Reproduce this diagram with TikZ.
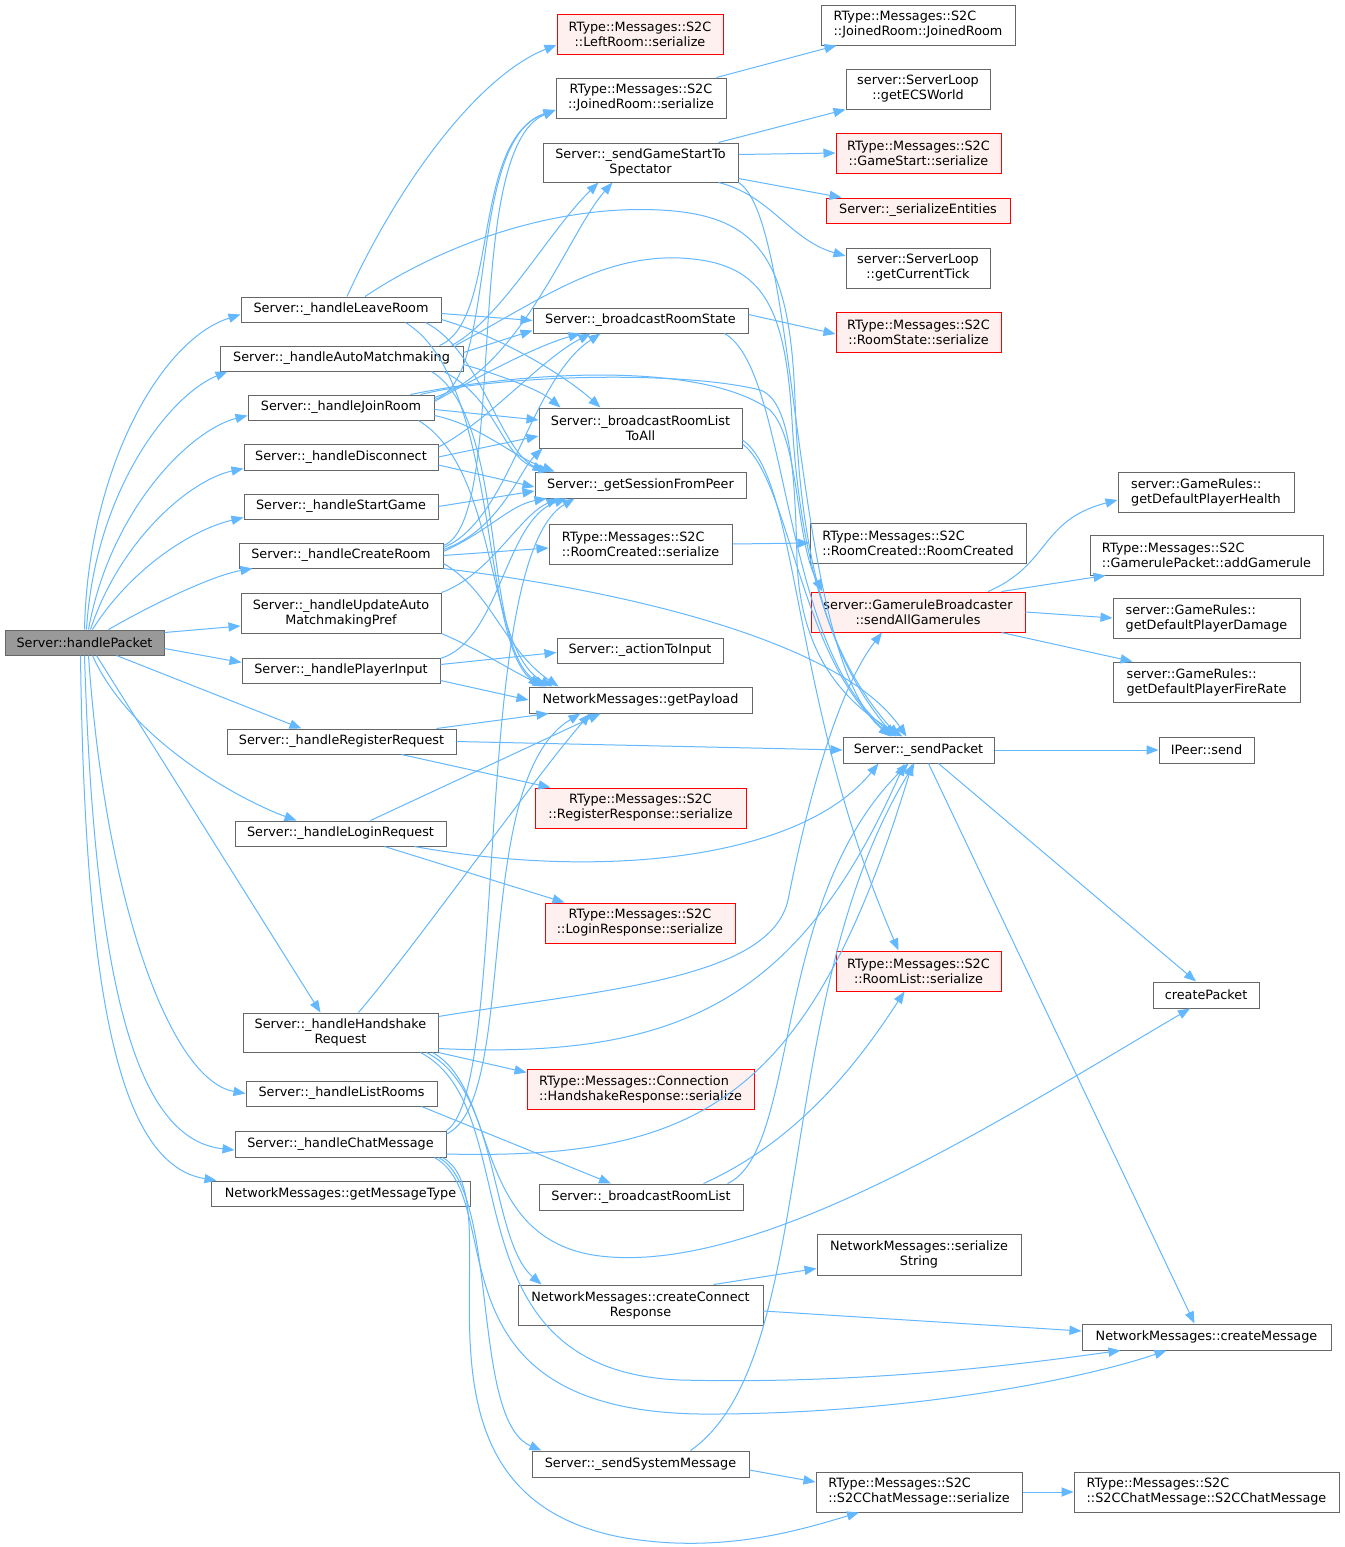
\documentclass[tikz,border=0pt]{standalone}
\usepackage{fontspec}
\setmainfont{DejaVu Sans}
\usetikzlibrary{arrows.meta}
\definecolor{edgec}{HTML}{63B8FF}
\definecolor{boxc}{HTML}{666666}
\definecolor{redc}{HTML}{FF0000}
\definecolor{redf}{HTML}{FFF0F0}
\definecolor{greyf}{HTML}{999999}
\newcommand\gnode[7]{\node[#6, minimum width={(#4-#2)*0.5pt}, minimum height={(#5-#3)*0.5pt}] (#1) at ({(#2+#4)/2},{(#3+#5)/2}) {#7};}
\tikzset{
  box/.style={draw=boxc, fill=white, line width=0.5pt, inner sep=0pt, align=center, font=\fontsize{6.4}{7.5}\selectfont},
  lbox/.style={box, align=left},
  redbox/.style={box, draw=redc, fill=redf},
  lredbox/.style={redbox, align=left},
  curbox/.style={box, fill=greyf},
  lnk/.style={draw=edgec, line width=0.5pt, -{Triangle[length=6pt,width=4.6pt]}}
}
\begin{document}
\begin{tikzpicture}[x=0.5pt,y=-0.5pt]
\fill[white] (0,0) rectangle (1344,1547);
\useasboundingbox (0,0) rectangle (1344,1547);
% column 1
\gnode{P}{5}{630}{164}{655}{curbox}{Server::handlePacket}
% column 2
\gnode{LR}{241}{297}{441}{322}{box}{Server::\_handleLeaveRoom}
\gnode{AM}{220}{346}{463}{371}{box}{Server::\_handleAutoMatchmaking}
\gnode{JR}{248}{395}{434}{420}{box}{Server::\_handleJoinRoom}
\gnode{DC}{244}{444}{438}{470}{box}{Server::\_handleDisconnect}
\gnode{SG}{244}{494}{438}{519}{box}{Server::\_handleStartGame}
\gnode{CR}{239}{543}{443}{568}{box}{Server::\_handleCreateRoom}
\gnode{UA}{241}{593}{441}{633}{box}{Server::\_handleUpdateAuto\\MatchmakingPref}
\gnode{PI}{242}{658}{440}{683}{box}{Server::\_handlePlayerInput}
\gnode{RR}{227}{729}{456}{754}{box}{Server::\_handleRegisterRequest}
\gnode{LG}{235}{821}{446}{846}{box}{Server::\_handleLoginRequest}
\gnode{HS}{243}{1013}{438}{1052}{box}{Server::\_handleHandshake\\Request}
\gnode{LI}{246}{1081}{437}{1106}{box}{Server::\_handleListRooms}
\gnode{CM}{235}{1131}{446}{1157}{box}{Server::\_handleChatMessage}
\gnode{MT}{211}{1181}{470}{1206}{box}{NetworkMessages::getMessageType}
% column 3
\gnode{LRs}{557}{14}{723}{54}{redbox}{RType::Messages::S2C\\::LeftRoom::serialize}
\gnode{JRs}{556}{78}{726}{118}{box}{RType::Messages::S2C\\::JoinedRoom::serialize}
\gnode{GSS}{543}{143}{738}{182}{box}{Server::\_sendGameStartTo\\Spectator}
\gnode{BRS}{533}{308}{748}{333}{box}{Server::\_broadcastRoomState}
\gnode{BRLA}{539}{408}{742}{448}{box}{Server::\_broadcastRoomList\\ToAll}
\gnode{GSP}{535}{472}{746}{498}{box}{Server::\_getSessionFromPeer}
\gnode{RCs}{549}{524}{732}{564}{lbox}{RType::Messages::S2C\\::RoomCreated::serialize}
\gnode{ATI}{557}{638}{723}{663}{box}{Server::\_actionToInput}
\gnode{GP}{529}{687}{752}{713}{box}{NetworkMessages::getPayload}
\gnode{RRs}{535}{788}{746}{828}{redbox}{RType::Messages::S2C\\::RegisterResponse::serialize}
\gnode{LGs}{545}{903}{735}{943}{redbox}{RType::Messages::S2C\\::LoginResponse::serialize}
\gnode{HSs}{527}{1069}{754}{1109}{lredbox}{RType::Messages::Connection\\::HandshakeResponse::serialize}
\gnode{BRL}{539}{1184}{743}{1210}{box}{Server::\_broadcastRoomList}
\gnode{CCR}{518}{1285}{763}{1325}{box}{NetworkMessages::createConnect\\Response}
\gnode{SSM}{532}{1451}{749}{1477}{box}{Server::\_sendSystemMessage}
% column 4
\gnode{JRJR}{821}{5}{1015}{45}{lbox}{RType::Messages::S2C\\::JoinedRoom::JoinedRoom}
\gnode{ECS}{846}{69}{990}{109}{box}{server::ServerLoop\\::getECSWorld}
\gnode{GSs}{836}{133}{1001}{173}{redbox}{RType::Messages::S2C\\::GameStart::serialize}
\gnode{SE}{826}{198}{1010}{223}{redbox}{Server::\_serializeEntities}
\gnode{CT}{846}{248}{990}{288}{box}{server::ServerLoop\\::getCurrentTick}
\gnode{RSs}{836}{312}{1001}{352}{redbox}{RType::Messages::S2C\\::RoomState::serialize}
\gnode{RCRC}{810}{523}{1026}{563}{lbox}{RType::Messages::S2C\\::RoomCreated::RoomCreated}
\gnode{GB}{811}{592}{1025}{632}{redbox}{server::GameruleBroadcaster\\::sendAllGamerules}
\gnode{SP}{843}{737}{994}{763}{box}{Server::\_sendPacket}
\gnode{RLs}{836}{951}{1001}{991}{redbox}{RType::Messages::S2C\\::RoomList::serialize}
\gnode{SS}{817}{1234}{1021}{1275}{box}{NetworkMessages::serialize\\String}
\gnode{S2Cs}{816}{1472}{1022}{1512}{lbox}{RType::Messages::S2C\\::S2CChatMessage::serialize}
% column 5
\gnode{HP}{1118}{472}{1294}{512}{lbox}{server::GameRules::\\getDefaultPlayerHealth}
\gnode{AG}{1090}{535}{1323}{575}{lbox}{RType::Messages::S2C\\::GamerulePacket::addGamerule}
\gnode{DM}{1113}{598}{1300}{638}{lbox}{server::GameRules::\\getDefaultPlayerDamage}
\gnode{FR}{1113}{662}{1300}{702}{lbox}{server::GameRules::\\getDefaultPlayerFireRate}
\gnode{IP}{1159}{737}{1254}{763}{box}{IPeer::send}
\gnode{CP}{1153}{982}{1259}{1008}{box}{createPacket}
\gnode{CMsg}{1082}{1324}{1331}{1350}{box}{NetworkMessages::createMessage}
\gnode{S2CC}{1074}{1472}{1339}{1512}{lbox}{RType::Messages::S2C\\::S2CChatMessage::S2CChatMessage}

% ---- edges from handlePacket
\draw[lnk] (P.north) .. controls (88,470) and (160,340) .. ([yshift=-2.5pt]LR.west);
\draw[lnk] ([xshift=1pt]P.north) .. controls (95,490) and (170,395) .. ([xshift=4pt]AM.south west);
\draw[lnk] ([xshift=2pt]P.north) .. controls (110,510) and (190,430) .. ([yshift=-4pt]JR.west);
\draw[lnk] ([xshift=3pt]P.north) .. controls (120,540) and (190,480) .. ([yshift=1pt]DC.south west);
\draw[lnk] ([xshift=4pt]P.north) .. controls (130,570) and (190,530) .. ([yshift=1pt]SG.south west);
\draw[lnk] ([xshift=12pt]P.north) .. controls (160,600) and (215,575) .. ([xshift=7pt]CR.south west);
\draw[lnk] ([yshift=5pt]P.east) -- ([yshift=-6.5pt]UA.west);
\draw[lnk] ([yshift=-3pt]P.east) -- ([yshift=4pt]PI.west);
\draw[lnk] ([xshift=16pt]P.south) -- ([xshift=-20pt]RR.north);
\draw[lnk] ([xshift=4pt]P.south) .. controls (130,740) and (240,800) .. ([xshift=-22pt]LG.north);
\draw[lnk] ([xshift=6pt]P.south) -- ([xshift=-10pt]HS.north);
\draw[lnk] ([xshift=2pt]P.south) .. controls (105,900) and (170,1080) .. (LI.west);
\draw[lnk] (P.south) .. controls (95,1000) and (140,1140) .. ([yshift=-3pt]CM.west);
\draw[lnk] ([xshift=-2pt]P.south) .. controls (85,1000) and (120,1165) .. ([xshift=3pt]MT.north west);

% ---- _handleLeaveRoom
\draw[lnk] ([xshift=3pt]LR.north) .. controls (400,180) and (480,75) .. ([yshift=-5.5pt]LRs.west);
\draw[lnk] ([xshift=12pt]LR.north) .. controls (450,240) and (560,205) .. (660,210) .. controls (760,215) and (790,260) .. (795,400) .. controls (800,560) and (830,660) .. ([xshift=-12pt]SP.north);
\draw[lnk] ([yshift=-2pt]LR.east) -- (BRS.west);
\draw[lnk] ([yshift=-5pt]LR.east) .. controls (510,340) and (570,380) .. ([xshift=-20pt]BRLA.north);
\draw[lnk] ([xshift=-8pt]LR.south east) .. controls (480,350) and (500,450) .. ([xshift=5pt]GSP.north west);
\draw[lnk] ([xshift=-18pt]LR.south east) .. controls (500,380) and (480,640) .. ([xshift=6pt]GP.north west);

% ---- _handleAutoMatchmaking
\draw[lnk] ([xshift=-12pt]AM.north east) .. controls (500,320) and (470,140) .. ([yshift=-6pt]JRs.west);
\draw[lnk] ([xshift=-6pt]AM.north east) .. controls (500,320) and (550,230) .. ([xshift=-21pt]GSS.south);
\draw[lnk] ([yshift=3pt]AM.east) -- ([yshift=-5pt]BRS.west);
\draw[lnk] ([yshift=-3pt]AM.east) .. controls (500,375) and (540,390) .. ([xshift=-40pt]BRLA.north);
\draw[lnk] ([xshift=-10pt]AM.south east) .. controls (500,400) and (500,460) .. ([xshift=8pt]GSP.north west);
\draw[lnk] ([xshift=-16pt]AM.south east) .. controls (510,420) and (480,650) .. ([xshift=9pt]GP.north west);
\draw[lnk] ([xshift=-4pt]AM.north east) .. controls (540,300) and (600,255) .. (680,258) .. controls (760,262) and (785,300) .. (792,420) .. controls (800,560) and (830,660) .. ([xshift=-10pt]SP.north);

% ---- _handleJoinRoom
\draw[lnk] ([yshift=4pt]JR.east) .. controls (500,380) and (465,140) .. ([yshift=-6pt]JRs.west);
\draw[lnk] ([yshift=5pt]JR.east) .. controls (520,370) and (570,230) .. ([xshift=-14pt]GSS.south);
\draw[lnk] ([yshift=3pt]JR.east) .. controls (490,370) and (540,345) .. ([xshift=-30pt]BRS.south);
\draw[lnk] ([yshift=-1pt]JR.east) -- ([yshift=4pt]BRLA.west);
\draw[lnk] ([yshift=-4pt]JR.east) .. controls (480,425) and (510,455) .. ([xshift=10pt]GSP.north west);
\draw[lnk] ([xshift=-8pt]JR.south east) .. controls (500,470) and (485,650) .. ([xshift=12pt]GP.north west);
\draw[lnk] ([xshift=-7pt]JR.north east) .. controls (500,375) and (680,370) .. (760,390) .. controls (790,400) and (795,470) .. (797,560) .. controls (800,650) and (840,700) .. ([xshift=-8pt]SP.north);
\draw[lnk] ([xshift=-12pt]JR.north east) .. controls (520,372) and (700,360) .. (770,410) .. controls (800,440) and (795,540) .. ([xshift=6pt]GB.north west);

% ---- _handleDisconnect
\draw[lnk] ([yshift=5pt]DC.east) .. controls (490,420) and (540,360) .. ([xshift=-25pt]BRS.south);
\draw[lnk] (DC.east) -- ([yshift=-4pt]BRLA.west);
\draw[lnk] ([yshift=-4pt]DC.east) -- ([yshift=-1pt]GSP.west);
% ---- _handleStartGame
\draw[lnk] (SG.east) -- ([yshift=-3pt]GSP.west);

% ---- _handleCreateRoom
\draw[lnk] ([yshift=5pt]CR.east) .. controls (510,520) and (460,150) .. ([yshift=-6pt]JRs.west);
\draw[lnk] ([yshift=4pt]CR.east) .. controls (510,520) and (530,380) .. ([xshift=-20pt]BRS.south);
\draw[lnk] ([yshift=3pt]CR.east) .. controls (500,530) and (520,470) .. ([xshift=2pt]BRLA.south west);
\draw[lnk] ([yshift=2pt]CR.east) .. controls (490,530) and (510,505) .. ([xshift=6pt]GSP.south west);
\draw[lnk] (CR.east) -- ([yshift=-2pt]RCs.west);
\draw[lnk] ([yshift=-4pt]CR.east) .. controls (490,590) and (505,650) .. ([xshift=15pt]GP.north west);
\draw[lnk] (CR.south east) .. controls (620,590) and (840,640) .. ([xshift=-6pt]SP.north);

% ---- _handleUpdateAutoMatchmakingPref
\draw[lnk] (UA.north east) .. controls (490,575) and (520,515) .. ([xshift=12pt]GSP.south west);
\draw[lnk] (UA.south east) .. controls (480,650) and (510,670) .. ([xshift=8pt]GP.north west);
% ---- _handlePlayerInput
\draw[lnk] ([yshift=6pt]PI.east) .. controls (500,640) and (505,520) .. ([xshift=16pt]GSP.south west);
\draw[lnk] ([yshift=3pt]PI.east) -- ([yshift=-1pt]ATI.west);
\draw[lnk] ([yshift=-5pt]PI.east) -- (GP.west);
% ---- _handleRegisterRequest
\draw[lnk] ([xshift=-10pt]RR.north east) -- ([xshift=10pt]GP.south west);
\draw[lnk] ([xshift=30pt]RR.south) -- ([xshift=8pt]RRs.north west);
\draw[lnk] (RR.east) -- (SP.west);
% ---- _handleLoginRequest
\draw[lnk] ([xshift=15pt]LG.north) -- ([xshift=-20pt]GP.south);
\draw[lnk] ([xshift=22pt]LG.south) -- ([xshift=10pt]LGs.north west);
\draw[lnk] ([xshift=37pt]LG.south) .. controls (600,880) and (800,860) .. ([xshift=-20pt]SP.south);

% ---- _handleHandshakeRequest
\draw[lnk] ([xshift=9pt]HS.north) .. controls (420,940) and (540,770) .. ([xshift=-25pt]GP.south);
\draw[lnk] ([yshift=-2pt]HS.north east) .. controls (600,990) and (770,980) .. (788,900) .. controls (800,840) and (830,700) .. ([xshift=-18pt]GB.south);
\draw[lnk] ([yshift=-8pt]HS.east) .. controls (680,1060) and (800,1000) .. ([xshift=-7pt]SP.south);
\draw[lnk] (HS.south east) -- ([yshift=-2pt]HSs.north west);
\draw[lnk] ([xshift=-6pt]HS.south east) .. controls (500,1090) and (490,1240) .. ([xshift=12pt]CCR.north west);
\draw[lnk] ([xshift=-3pt]HS.south east) .. controls (500,1090) and (470,1240) .. (600,1256) .. controls (760,1275) and (1000,1120) .. ([xshift=-8pt]CP.south);
\draw[lnk] ([xshift=-9pt]HS.south east) .. controls (530,1110) and (440,1370) .. (680,1380) .. controls (880,1385) and (1050,1360) .. ([xshift=-43pt]CMsg.south);

% ---- _handleListRooms
\draw[lnk] ([xshift=40pt]LI.south) -- ([xshift=-15pt]BRL.north);

% ---- _handleChatMessage
\draw[lnk] ([yshift=5pt]CM.east) .. controls (520,1100) and (470,780) .. ([xshift=-30pt]GP.south);
\draw[lnk] (CM.north east) .. controls (510,1090) and (470,560) .. ([xshift=20pt]GSP.south west);
\draw[lnk] ([yshift=-5pt]CM.east) .. controls (700,1160) and (810,1100) .. ([xshift=-3pt]SP.south);
\draw[lnk] ([xshift=-4pt]CM.south east) .. controls (500,1190) and (470,1420) .. ([xshift=5pt]SSM.north west);
\draw[lnk] ([xshift=-2pt]CM.south east) .. controls (520,1200) and (380,1490) .. (620,1537) .. controls (720,1555) and (800,1530) .. ([xshift=-30pt]S2Cs.south);
\draw[lnk] ([xshift=-6pt]CM.south east) .. controls (510,1200) and (420,1410) .. (700,1414) .. controls (900,1415) and (1080,1380) .. ([xshift=-20pt]CMsg.south);

% ---- column 3 to column 4
\draw[lnk] ([xshift=-5pt]JRs.north east) -- ([xshift=8pt]JRJR.south west);
\draw[lnk] ([xshift=-10pt]GSS.north east) -- (ECS.south west);
\draw[lnk] ([yshift=4pt]GSS.east) -- (GSs.west);
\draw[lnk] ([yshift=-8pt]GSS.east) -- ([xshift=8pt]SE.north west);
\draw[lnk] ([xshift=-10pt]GSS.south east) .. controls (770,195) and (790,240) .. ([yshift=6pt]CT.west);
\draw[lnk] (GSS.south east) .. controls (800,220) and (790,650) .. ([xshift=-14pt]SP.north);
\draw[lnk] ([yshift=3pt]BRS.east) -- ([yshift=-1pt]RSs.west);
\draw[lnk] ([xshift=-12pt]BRS.south east) .. controls (790,370) and (780,650) .. ([xshift=-11pt]SP.north);
\draw[lnk] ([yshift=-6pt]BRLA.east) .. controls (800,480) and (790,700) .. ([xshift=-10pt]RLs.north);
\draw[lnk] ([yshift=-8pt]BRLA.east) .. controls (790,480) and (800,660) .. ([xshift=-13pt]SP.north);
\draw[lnk] (RCs.east) -- (RCRC.west);
\draw[lnk] ([xshift=-20pt]BRL.north east) .. controls (800,1140) and (860,1060) .. ([xshift=-7pt]RLs.south);
\draw[lnk] ([xshift=-8pt]BRL.north east) .. controls (800,1150) and (770,900) .. ([xshift=-5pt]SP.south);
\draw[lnk] ([xshift=-25pt]CCR.north east) -- ([yshift=-7pt]SS.west);
\draw[lnk] ([yshift=-3pt]CCR.east) -- ([yshift=3pt]CMsg.west);
\draw[lnk] ([yshift=-3pt]SSM.east) -- ([yshift=5pt]S2Cs.west);
\draw[lnk] ([xshift=25pt]SSM.north) .. controls (820,1360) and (770,1000) .. ([xshift=-2pt]SP.south);
\draw[lnk] (S2Cs.east) -- (S2CC.west);

% ---- column 4 to column 5
\draw[lnk] ([xshift=35pt]GB.north) .. controls (1050,565) and (1040,520) .. ([yshift=-4pt]HP.west);
\draw[lnk] ([xshift=-12pt]GB.north east) -- ([xshift=8pt]AG.south west);
\draw[lnk] (GB.east) -- (DM.west);
\draw[lnk] ([xshift=-12pt]GB.south east) -- ([xshift=10pt]FR.north west);
\draw[lnk] (SP.east) -- (IP.west);
\draw[lnk] ([xshift=10pt]SP.south) -- ([xshift=-5pt]CP.north);
\draw[lnk] ([xshift=5pt]SP.south) -- ([xshift=-6pt]CMsg.north);
\end{tikzpicture}
\end{document}
